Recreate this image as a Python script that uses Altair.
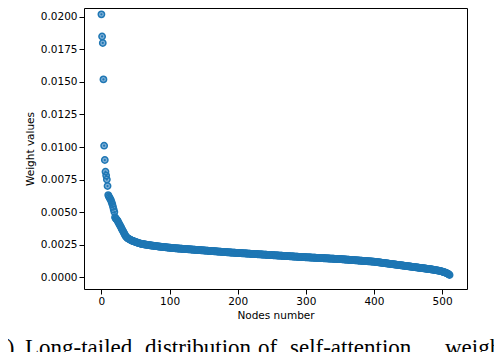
import altair as alt
import pandas as pd

# Weight values (in units of 1e-6), sorted descending, node index = position
weights_micro = [
    20200, 18500, 18000, 15200, 10100, 9000, 8100, 7800, 7500, 7000,
    6300, 6200, 6100, 6000, 5900, 5750, 5600, 5400, 5200, 5000,
    4600, 4500, 4450, 4380, 4300, 4200, 4100, 4000, 3900, 3800,
    3700, 3600, 3500, 3400, 3300, 3200, 3120, 3060, 3010, 2970,
    2940, 2910, 2880, 2850, 2820, 2800, 2780, 2760, 2740, 2720,
    2700, 2680, 2660, 2640, 2620, 2605, 2590, 2575, 2560, 2550,
    2540, 2530, 2520, 2510, 2500, 2492, 2484, 2476, 2468, 2460,
    2452, 2444, 2436, 2428, 2420, 2413, 2406, 2399, 2392, 2385,
    2378, 2371, 2364, 2357, 2350, 2344, 2338, 2332, 2326, 2320,
    2314, 2308, 2302, 2296, 2290, 2284, 2278, 2272, 2266, 2260,
    2255, 2250, 2245, 2240, 2235, 2230, 2225, 2220, 2215, 2210,
    2205, 2201, 2197, 2193, 2189, 2185, 2181, 2177, 2173, 2169,
    2165, 2161, 2157, 2153, 2149, 2145, 2141, 2137, 2133, 2129,
    2125, 2121, 2117, 2113, 2109, 2105, 2101, 2097, 2093, 2089,
    2085, 2081, 2077, 2073, 2069, 2065, 2061, 2057, 2053, 2049,
    2045, 2041, 2037, 2033, 2029, 2025, 2021, 2017, 2013, 2009,
    2005, 2001, 1997, 1993, 1989, 1985, 1981, 1977, 1973, 1969,
    1965, 1961, 1957, 1953, 1949, 1945, 1941, 1937, 1933, 1929,
    1925, 1921, 1917, 1913, 1909, 1905, 1901, 1897, 1893, 1889,
    1885, 1882, 1878, 1875, 1872, 1868, 1865, 1862, 1858, 1855,
    1852, 1848, 1845, 1842, 1838, 1835, 1832, 1828, 1825, 1822,
    1818, 1815, 1812, 1808, 1805, 1802, 1798, 1795, 1792, 1788,
    1785, 1782, 1778, 1775, 1772, 1768, 1765, 1762, 1758, 1755,
    1752, 1748, 1745, 1742, 1738, 1735, 1732, 1728, 1725, 1722,
    1718, 1715, 1712, 1708, 1705, 1702, 1698, 1695, 1692, 1688,
    1685, 1682, 1678, 1675, 1672, 1668, 1665, 1662, 1658, 1655,
    1652, 1648, 1645, 1642, 1638, 1635, 1632, 1628, 1625, 1622,
    1618, 1615, 1612, 1608, 1605, 1602, 1598, 1595, 1592, 1588,
    1585, 1582, 1578, 1575, 1572, 1568, 1565, 1562, 1558, 1555,
    1552, 1548, 1545, 1542, 1538, 1535, 1532, 1528, 1525, 1522,
    1520, 1517, 1514, 1512, 1509, 1506, 1503, 1500, 1498, 1495,
    1492, 1489, 1486, 1484, 1481, 1478, 1475, 1472, 1470, 1467,
    1464, 1461, 1458, 1456, 1453, 1450, 1447, 1444, 1442, 1439,
    1436, 1433, 1430, 1428, 1425, 1422, 1419, 1416, 1414, 1411,
    1408, 1405, 1402, 1399, 1396, 1393, 1390, 1387, 1384, 1381,
    1378, 1375, 1371, 1367, 1363, 1359, 1355, 1351, 1347, 1343,
    1339, 1335, 1331, 1327, 1323, 1319, 1315, 1311, 1307, 1303,
    1299, 1295, 1291, 1287, 1283, 1279, 1275, 1271, 1267, 1263,
    1259, 1255, 1251, 1247, 1243, 1239, 1235, 1231, 1227, 1223,
    1219, 1215, 1211, 1207, 1203, 1199, 1195, 1191, 1187, 1183,
    1179, 1172, 1165, 1158, 1151, 1144, 1137, 1130, 1123, 1116,
    1109, 1102, 1095, 1088, 1081, 1074, 1067, 1060, 1053, 1046,
    1039, 1032, 1025, 1018, 1011, 1004, 997, 990, 983, 976,
    969, 962, 955, 948, 941, 934, 927, 920, 913, 906,
    899, 892, 885, 878, 871, 864, 857, 850, 843, 836,
    829, 822, 815, 808, 801, 794, 787, 780, 773, 766,
    759, 752, 745, 738, 731, 724, 717, 710, 703, 696,
    689, 682, 675, 668, 661, 654, 647, 640, 633, 626,
    619, 612, 605, 597, 589, 581, 573, 565, 556, 547,
    538, 529, 519, 509, 499, 488, 477, 466, 454, 442,
    420, 405, 390, 373, 355, 335, 313, 290, 265, 237, 205, 150,
]

x_ticks = [0, 100, 200, 300, 400, 500]
y_ticks = [0.0, 0.0025, 0.005, 0.0075, 0.01, 0.0125, 0.015, 0.0175, 0.02]
# Caption (justified in the source, so words are placed one by one)
caption_words = ["(a)", "Long-tailed", "distribution", "of", "self-attention", "weights"]
caption_word_x = [-95, -59, 61, 174, 206, 361]

df = pd.DataFrame({
    "node": list(range(len(weights_micro))),
    "weight": [w * 1e-6 for w in weights_micro],
})

BLUE = "#1f77b4"
FONT = "DejaVu Sans"

x_enc = alt.X(
    "node:Q",
    scale=alt.Scale(domain=[-25.55, 536.55], nice=False, zero=False),
    axis=alt.Axis(values=x_ticks, format="d", title="Nodes number",
                  labelPadding=2, titlePadding=4),
)
y_enc = alt.Y(
    "weight:Q",
    scale=alt.Scale(domain=[-0.00092, 0.02069], nice=False, zero=False),
    axis=alt.Axis(values=y_ticks, format=".4f", title="Weight values",
                  labelPadding=2, titlePadding=5),
)

base = alt.Chart(df)
fills = base.mark_point(shape="circle", filled=True, size=40,
                        color="#7fb0d8", opacity=1).encode(x=x_enc, y=y_enc)
rings = base.mark_point(shape="circle", filled=False, size=40,
                        color=BLUE, strokeWidth=1.5, opacity=1).encode(x=x_enc, y=y_enc)
dots = base.mark_point(shape="circle", filled=True, size=5,
                       color=BLUE, opacity=1).encode(x=x_enc, y=y_enc)

caps = []
for word, xo in zip(caption_words, caption_word_x):
    caps.append(
        alt.Chart(pd.DataFrame({"t": [word]})).mark_text(
            align="left", baseline="alphabetic", font="Liberation Serif",
            fontSize=23, color="black",
        ).encode(x=alt.value(xo), y=alt.value(347), text="t:N")
    )

chart = alt.layer(fills, rings, dots, *caps).properties(
    width=383, height=281,
    autosize=alt.AutoSizeParams(type="none"),
    padding={"left": 76, "top": 0, "right": 27, "bottom": 63},
).configure_view(
    stroke="black", strokeWidth=1
).configure_axis(
    grid=False, domain=False, tickColor="black", tickSize=5, tickWidth=1,
    labelFont=FONT, labelFontSize=10.5, labelColor="black",
    titleFont=FONT, titleFontSize=10.5, titleFontWeight="normal", titleColor="black",
)

chart.save("out.html", embed_options={"renderer": "svg", "actions": False})
